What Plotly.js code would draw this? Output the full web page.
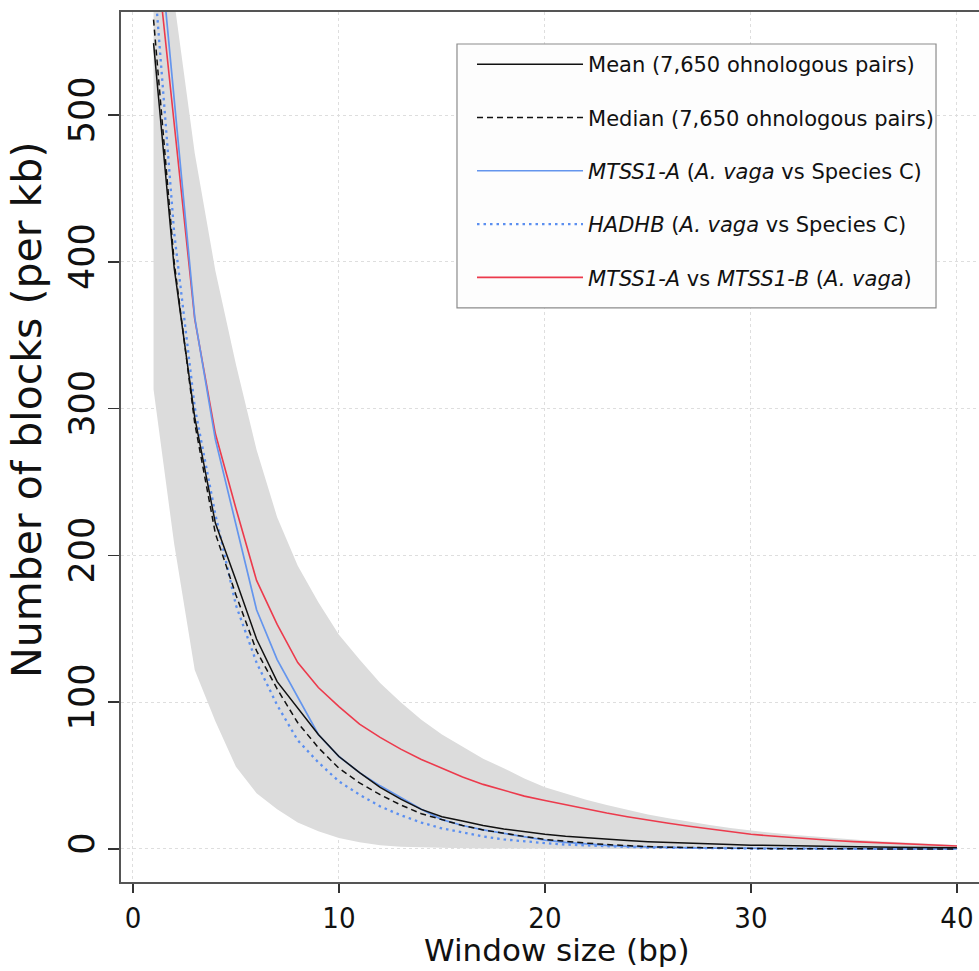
<!DOCTYPE html>
<html>
<head>
<meta charset="utf-8">
<script src="https://cdn.plot.ly/plotly-3.0.1.min.js"></script>
<style>html,body{margin:0;padding:0;background:#fff;}#chart{width:979px;height:971px;}</style>
</head>
<body>
<div id="chart"></div>
<script>
const windowSize = [1,2,3,4,5,6,7,8,9,10,11,12,13,14,15,16,17,18,19,20,21,22,23,24,25,26,27,28,29,30,31,32,33,34,35,36,37,38,39,40];
const bandUpper = [800,578,474,394,330,272,226,193,168,146,129,113,100,88,78,69.5,61.5,55,48,42,37.5,33.5,30,26.5,23.5,21,18.5,16.3,14.3,12.5,11,9.7,8.5,7.4,6.4,5.5,4.7,4,3.3,2.7];
const bandLower = [313,208,122,87,56,38,27,18,12,7.5,4.5,2.5,1.5,1,0.7,0.5,0.3,0.2,0.1,0,0,0,0,0,0,0,0,0,0,0,0,0,0,0,0,0,0,0,0,0];
const meanPairs = [549,396,294,222,183,143,114,96,78,63,52,42,34,27,22,19,16,13.6,11.6,10,8.7,7.6,6.6,5.8,5,4.4,3.9,3.4,3,2.6,2.3,2,1.8,1.6,1.4,1.3,1.2,1.1,1,0.9];
const medianPairs = [565,400,290,215,173,135,109,86,69,55,45,37,30,24,20,16,13,10.5,8.5,6.5,5,4,3,2.2,1.6,1.2,0.9,0.6,0.4,0.3,0.2,0.2,0.1,0.1,0.1,0,0,0,0,0];
const mtss1A = [660,511,362,279,220,163,129,103,78,63,52,43,35,27,20,16,13,10.5,8.5,6,4.5,3.2,2.4,1.8,1.3,1,0.8,0.6,0.5,0.4,0.3,0.3,0.2,0.2,0.1,0.1,0.1,0.1,0.1,0.1];
const hadhb = [600,420,301,228,166,127,98,74,59,46,37,29,23,18,14,11,8.5,6.5,5,4,3,2.3,1.8,1.4,1,0.8,0.6,0.5,0.4,0.3,0.2,0.2,0.1,0.1,0.1,0,0,0,0,0];
const mtss1AvsB = [628,496,361,283,232,183,153,127,110,97,85,76,68,61,55,49,44,40,36,33,30,27,24.5,22,19.5,17.5,15.5,13.5,11.5,10,8.8,7.7,6.7,5.8,5,4.3,3.6,3,2.5,2];
const xTicks = [0,10,20,30,40];
const yTicks = [0,100,200,300,400,500];
const xTitle = 'Window size (bp)';
const yTitle = 'Number of blocks (per kb)';
const names = [
  'Mean (7,650 ohnologous pairs)',
  'Median (7,650 ohnologous pairs)',
  '<i>MTSS1-A</i> (<i>A. vaga</i> vs Species C)',
  '<i>HADHB</i> (<i>A. vaga</i> vs Species C)',
  '<i>MTSS1-A</i> vs <i>MTSS1-B</i> (<i>A. vaga</i>)'
];

const traces = [
  {x: windowSize, y: bandLower, mode: 'lines', line: {width: 0, color: '#dcdcdc'}, showlegend: false, hoverinfo: 'skip'},
  {x: windowSize, y: bandUpper, mode: 'lines', fill: 'tonexty', fillcolor: '#dcdcdc', line: {width: 0, color: '#dcdcdc'}, showlegend: false, hoverinfo: 'skip'},
  {x: windowSize, y: mtss1AvsB, mode: 'lines', name: names[4], legendgroup: 'e', legendrank: 5, line: {color: '#ec3a4c', width: 1.6}},
  {x: windowSize, y: hadhb, mode: 'lines', name: names[3], legendgroup: 'd', legendrank: 4, line: {color: '#5b8ff0', width: 2.3, dash: '2.5px,4px'}},
  {x: windowSize, y: mtss1A, mode: 'lines', name: names[2], legendgroup: 'c', legendrank: 3, line: {color: '#6495ed', width: 1.7}},
  {x: windowSize, y: medianPairs, mode: 'lines', name: names[1], legendgroup: 'b', legendrank: 2, line: {color: '#111', width: 1.5, dash: '6px,4px'}},
  {x: windowSize, y: meanPairs, mode: 'lines', name: names[0], legendgroup: 'a', legendrank: 1, line: {color: '#111', width: 1.5}}
];

const layout = {
  width: 979, height: 971,
  margin: {l: 121, r: 0, t: 12, b: 89},
  paper_bgcolor: '#ffffff', plot_bgcolor: '#ffffff',
  font: {family: 'DejaVu Sans, Verdana, sans-serif', color: '#111'},
  xaxis: {
    range: [-0.58, 41.07], tickvals: xTicks, ticktext: xTicks.map(String),
    showline: true, linecolor: '#555', linewidth: 2, mirror: true,
    ticks: 'outside', ticklen: 9, tickwidth: 1.5, tickcolor: '#333',
    showgrid: true, gridcolor: '#dedede', gridwidth: 1, griddash: 'dot', zeroline: false,
    tickfont: {family: 'DejaVu Sans Condensed, DejaVu Sans', size: 29, color: '#111'}
  },
  yaxis: {
    range: [-22.5, 570.2], tickvals: yTicks, ticktext: yTicks.map(String),
    showline: true, linecolor: '#555', linewidth: 2,
    ticks: 'outside', ticklen: 11, tickwidth: 1.5, tickcolor: '#333', tickangle: -90,
    showgrid: true, gridcolor: '#dedede', gridwidth: 1, griddash: 'dot', zeroline: false,
    tickfont: {family: 'DejaVu Sans', size: 35, color: '#111'}
  },
  annotations: [
    {text: yTitle, xref: 'paper', yref: 'paper', x: -0.1096, y: 0.5425, xanchor: 'center', yanchor: 'middle',
     textangle: -90, showarrow: false, font: {family: 'DejaVu Sans', size: 41, color: '#111'}},
    {text: xTitle, xref: 'paper', yref: 'paper', x: 0.5076, y: -0.0782, xanchor: 'center', yanchor: 'middle',
     showarrow: false, font: {family: 'DejaVu Sans', size: 31, color: '#111'}}
  ],
  shapes: [{
    type: 'rect', xref: 'paper', yref: 'paper', layer: 'above',
    x0: 0.3916, x1: 0.9499, y0: 0.6598, y1: 0.9632,
    fillcolor: '#fdfdfd', line: {color: '#8c8c8c', width: 1.2}
  }],
  legend: {
    x: 0.4091, y: 0.9632, xanchor: 'left', yanchor: 'top',
    bgcolor: 'rgba(0,0,0,0)', borderwidth: 0,
    font: {family: 'DejaVu Sans', size: 21, color: '#111'},
    itemwidth: 106, traceorder: 'grouped', tracegroupgap: 23
  },
  showlegend: true
};

Plotly.newPlot('chart', traces, layout, {displayModeBar: false, staticPlot: true});
</script>
</body>
</html>
